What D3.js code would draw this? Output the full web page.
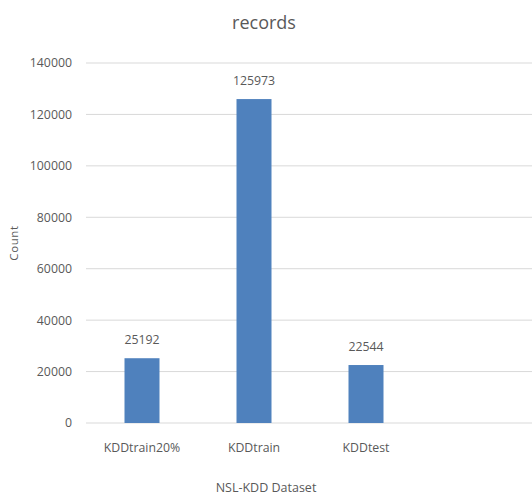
<!DOCTYPE html>
<html>
<head>
<meta charset="utf-8">
<script src="https://cdn.jsdelivr.net/npm/d3@7"></script>
<style>
  html, body { margin: 0; padding: 0; background: #fff; }
  text { font-family: "Open Sans", sans-serif; fill: #595959; }
</style>
</head>
<body>
<svg id="chart" width="532" height="497"></svg>
<script>
const categories = ["KDDtrain20%", "KDDtrain", "KDDtest"];
const records = [25192, 125973, 22544];
const yTicks = [0, 20000, 40000, 60000, 80000, 100000, 120000, 140000];

const svg = d3.select("#chart");
const plot = { left: 86, right: 532, top: 63, bottom: 423 };
const labelFont = '"Open Sans", sans-serif';
const labelSize = 12.3;

const x = d3.scaleBand()
  .domain(categories)
  .range([plot.left, plot.left + 112 * categories.length])
  .paddingInner(0.6875)
  .paddingOuter(0.34375);

const y = d3.scaleLinear().domain([0, 140000]).range([plot.bottom, plot.top]);

// horizontal gridlines
svg.append("g")
  .selectAll("line")
  .data(yTicks)
  .join("line")
  .attr("x1", plot.left).attr("x2", plot.right)
  .attr("y1", d => y(d)).attr("y2", d => y(d))
  .attr("stroke", "#d9d9d9").attr("stroke-width", 1);

// y axis labels
const yAxis = d3.axisLeft(y).tickValues(yTicks).tickSize(0).tickPadding(0).tickFormat(d3.format("d"));
const yg = svg.append("g").attr("transform", `translate(${plot.left - 14},0)`).call(yAxis);
yg.select(".domain").remove();
yg.selectAll("text").attr("font-size", labelSize).attr("fill", "#595959")
  .style("font-family", labelFont);

// bars
svg.append("g")
  .selectAll("rect")
  .data(records)
  .join("rect")
  .attr("x", (d, i) => x(categories[i]))
  .attr("width", x.bandwidth())
  .attr("y", d => y(d))
  .attr("height", d => y(0) - y(d))
  .attr("fill", "#4f81bd");

// value labels
svg.append("g")
  .selectAll("text")
  .data(records)
  .join("text")
  .attr("x", (d, i) => x(categories[i]) + x.bandwidth() / 2)
  .attr("y", d => y(d) - 14)
  .attr("text-anchor", "middle")
  .attr("font-size", labelSize)
  .text(d => d);

// category labels
const xAxis = d3.axisBottom(x).tickSize(0).tickPadding(0);
const xg = svg.append("g").attr("transform", `translate(0,${plot.bottom + 29})`).call(xAxis);
xg.select(".domain").remove();
xg.selectAll("text").attr("font-size", labelSize).attr("fill", "#595959").attr("dy", 0)
  .style("font-family", labelFont);

// title
svg.append("text")
  .attr("x", 264).attr("y", 29)
  .attr("text-anchor", "middle")
  .attr("font-size", 18)
  .text("records");

// axis titles
svg.append("text")
  .attr("x", 266).attr("y", 492)
  .attr("text-anchor", "middle")
  .attr("font-size", 12.5)
  .text("NSL-KDD Dataset");

svg.append("text")
  .attr("transform", "translate(18,243) rotate(-90)")
  .attr("text-anchor", "middle")
  .attr("font-size", 11.5)
  .attr("letter-spacing", 0.6)
  .text("Count");
</script>
</body>
</html>
